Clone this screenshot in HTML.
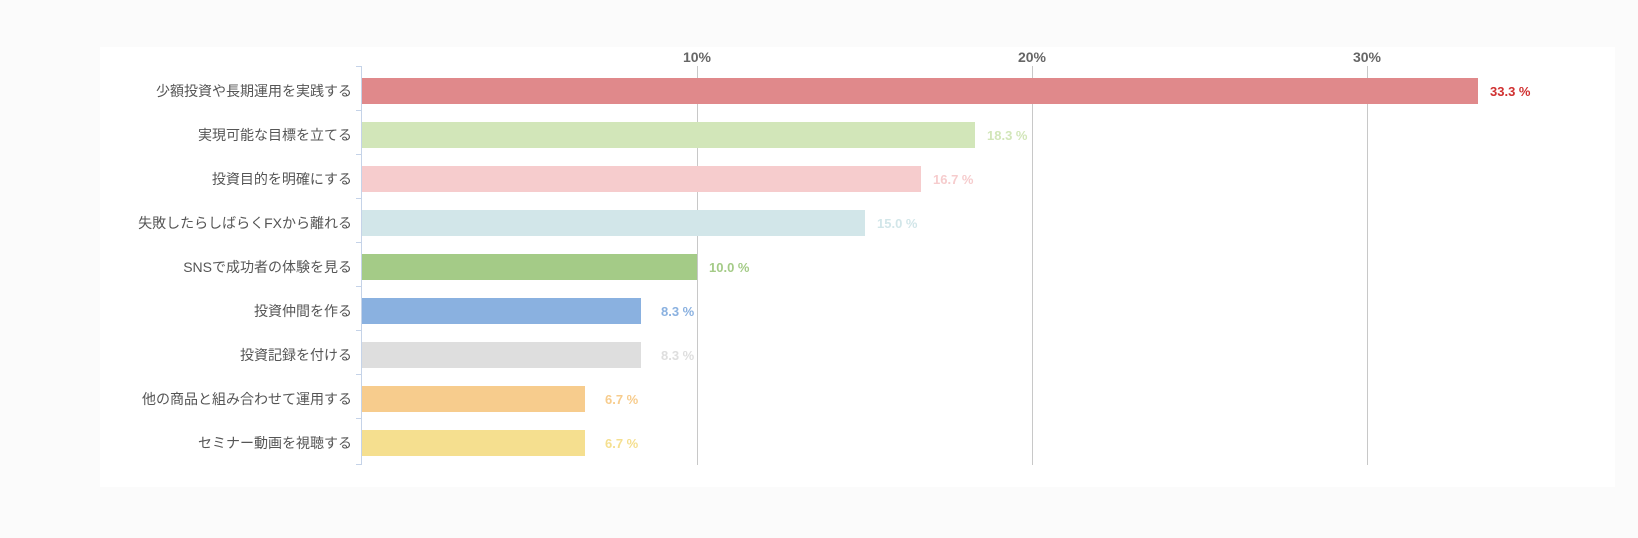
<!DOCTYPE html>
<html><head><meta charset="utf-8"><style>
body{margin:0;background:#fbfbfb;}
</style></head><body>
<svg width="1638" height="538" xmlns="http://www.w3.org/2000/svg" style="display:block;font-family:'Liberation Sans','Noto Sans CJK JP',sans-serif">
<rect x="0" y="0" width="1638" height="538" fill="#fbfbfb"/>
<rect x="100" y="47" width="1515" height="440" fill="#ffffff"/>
<g stroke="#c8c8c8" stroke-width="1">
<line x1="697.5" y1="66" x2="697.5" y2="465"/>
<line x1="1032.5" y1="66" x2="1032.5" y2="465"/>
<line x1="1367.5" y1="66" x2="1367.5" y2="465"/>
</g>
<g font-size="14" font-weight="bold" fill="#666" text-anchor="middle">
<text x="697" y="62">10%</text><text x="1032" y="62">20%</text><text x="1367" y="62">30%</text>
</g>
<g>
<rect x="362" y="78" width="1116" height="26" fill="#e0898b"/>
<rect x="362" y="122" width="613" height="26" fill="#d2e6b9"/>
<rect x="362" y="166" width="559" height="26" fill="#f6cccd"/>
<rect x="362" y="210" width="503" height="26" fill="#d2e6e9"/>
<rect x="362" y="254" width="335" height="26" fill="#a4cb87"/>
<rect x="362" y="298" width="279" height="26" fill="#8ab1e0"/>
<rect x="362" y="342" width="279" height="26" fill="#dedede"/>
<rect x="362" y="386" width="223" height="26" fill="#f7cc8d"/>
<rect x="362" y="430" width="223" height="26" fill="#f5df8f"/>
</g>
<g font-size="13" font-weight="bold">
<text x="1490" y="96" fill="#d03030">33.3 %</text>
<text x="987" y="140" fill="#d2e6b9">18.3 %</text>
<text x="933" y="184" fill="#f6cccd">16.7 %</text>
<text x="877" y="228" fill="#d2e6e9">15.0 %</text>
<text x="709" y="272" fill="#a4cb87">10.0 %</text>
<text x="661" y="316" fill="#8ab1e0">8.3 %</text>
<text x="661" y="360" fill="#dedede">8.3 %</text>
<text x="605" y="404" fill="#f7cc8d">6.7 %</text>
<text x="605" y="448" fill="#f5df8f">6.7 %</text>
</g>
<g font-size="14" fill="#555" text-anchor="end">
<text x="352" y="96">少額投資や長期運用を実践する</text>
<text x="352" y="140">実現可能な目標を立てる</text>
<text x="352" y="184">投資目的を明確にする</text>
<text x="352" y="228">失敗したらしばらくFXから離れる</text>
<text x="352" y="272">SNSで成功者の体験を見る</text>
<text x="352" y="316">投資仲間を作る</text>
<text x="352" y="360">投資記録を付ける</text>
<text x="352" y="404">他の商品と組み合わせて運用する</text>
<text x="352" y="448">セミナー動画を視聴する</text>
</g>
<g stroke="#c5d3e8" stroke-width="1">
<line x1="361.5" y1="66" x2="361.5" y2="465"/>
<line x1="356" y1="66.5" x2="362" y2="66.5"/>
<line x1="356" y1="110.5" x2="362" y2="110.5"/>
<line x1="356" y1="154.5" x2="362" y2="154.5"/>
<line x1="356" y1="198.5" x2="362" y2="198.5"/>
<line x1="356" y1="242.5" x2="362" y2="242.5"/>
<line x1="356" y1="286.5" x2="362" y2="286.5"/>
<line x1="356" y1="330.5" x2="362" y2="330.5"/>
<line x1="356" y1="374.5" x2="362" y2="374.5"/>
<line x1="356" y1="418.5" x2="362" y2="418.5"/>
<line x1="356" y1="464.5" x2="362" y2="464.5"/>
</g>
</svg>
</body></html>
